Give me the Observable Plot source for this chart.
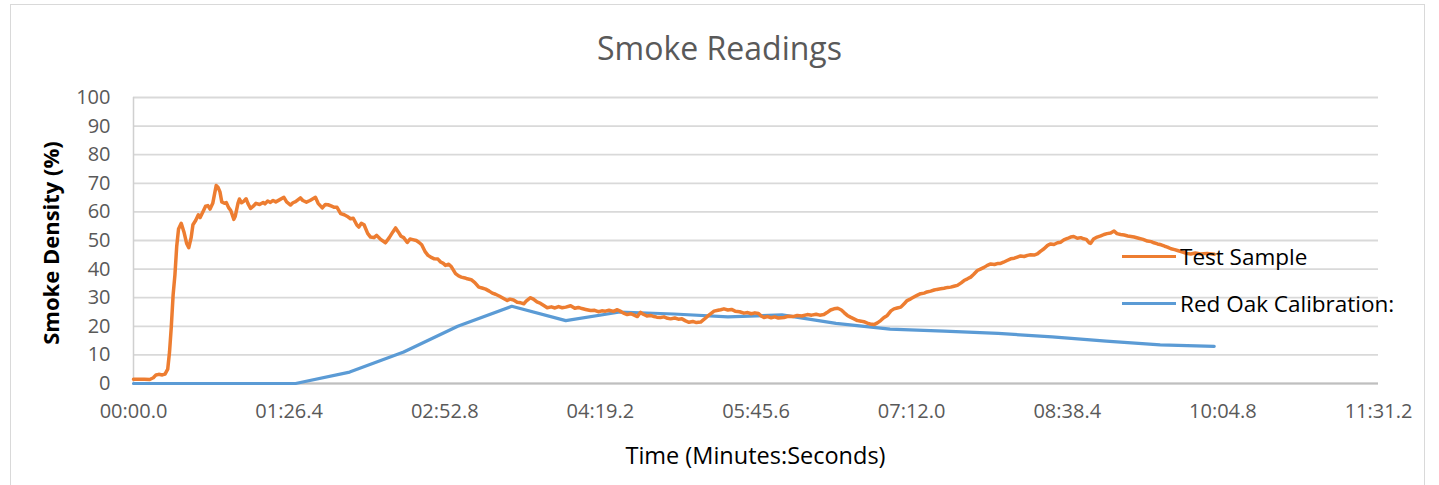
<!DOCTYPE html>
<html>
<head>
<meta charset="utf-8">
<script src="https://cdn.jsdelivr.net/npm/d3@7"></script>
<script src="https://cdn.jsdelivr.net/npm/@observablehq/plot@0.6"></script>
<style>
  html, body { margin: 0; padding: 0; background: #fff; }
  #wrap { position: relative; width: 1439px; height: 485px; overflow: hidden; font-family: "Open Sans", sans-serif; }
  #frame { position: absolute; left: 10px; top: 4px; width: 1415px; height: 500px; border: 1px solid #d9d9d9; box-sizing: border-box; pointer-events: none; }
  #title { position: absolute; left: 0; width: 1439px; top: 27px; text-align: center; font-size: 32px; color: #595959; line-height: 42px; }
  #ytitle { position: absolute; left: 50px; top: 243px; transform: translate(-50%, -50%) rotate(-90deg); white-space: nowrap; font-size: 22px; font-weight: bold; color: #000; }
  #xtitle { position: absolute; left: 133px; width: 1245px; top: 439px; text-align: center; font-size: 23.5px; color: #000; line-height: 32px; }
  .leg { position: absolute; left: 1122px; height: 30px; display: flex; align-items: center; font-size: 22.5px; color: #000; white-space: nowrap; }
  .leg .sw { width: 54px; height: 3px; margin-right: 4px; }
  svg g[aria-label="x-axis tick label"] { font-size: 20px; fill: #595959; }
  svg g[aria-label="y-axis tick label"] { font-size: 20px; fill: #595959; }
</style>
</head>
<body>
<div id="wrap">
  <div id="chart"></div>
  <div id="frame"></div>
  <div id="title"></div>
  <div id="ytitle"></div>
  <div id="xtitle"></div>
  <div id="leg"></div>
</div>
<script>
// ---------- data ----------
const chartTitle = "Smoke Readings";
const xAxisTitle = "Time (Minutes:Seconds)";
const yAxisTitle = "Smoke Density (%)";
const seriesNames = ["Test Sample", "Red Oak Calibration:"];
const seriesColors = ["#ED7D31", "#5B9BD5"];

const xTickValues = [0, 86.4, 172.8, 259.2, 345.6, 432, 518.4, 604.8, 691.2];
const xTickLabels = ["00:00.0", "01:26.4", "02:52.8", "04:19.2", "05:45.6", "07:12.0", "08:38.4", "10:04.8", "11:31.2"];
const yTickValues = [0, 10, 20, 30, 40, 50, 60, 70, 80, 90, 100];

// Test Sample (seconds, %)
const testTime = [0,3,6,9,11,12.5,14,16,17.5,19,20,21,22,23,24,25,26.5,28,29.5,30.7,32,33,34.5,36,37,38.5,40,41.3,42.5,44,45.9,47,48,49,50.5,51.5,52.8,54,55.7,56.5,58,58.8,60,61,62.5,63.5,65,66.5,68,70,72,73,74.5,76,77.5,79,81,83.5,85,87.2,88.5,90,92.7,94,96,98,101,102.5,104.8,106.5,108,110,111.5,113,115,117,118.5,120.5,122,124,125.1,126.5,128,130,131.6,133.5,135,137,139.9,142,144,145.5,147,148.5,150,152,153.5,155,157,158.4,160,162,163.5,165,167,169,170.5,172,173.2,175,176.5,178.8,180.5,182,184,185.3,187.5,189.5,191.7,193.5,195.5,197.5,199.2,201,203,205.5,207.5,209,211,213,215,216.7,218,220.4,222,224,226,228,229.7,232,234,236,238,240,242.7,245,247,249,251,253.8,256,258,260,262,264,266.5,268.6,270.5,272,274.1,276,278,279.7,281.5,283,285,287,289,290.5,292.6,294.5,296.5,298.2,300.5,302.5,304.5,306.5,308.4,310.5,312.5,314.9,316.5,318,320,322.3,324.5,326,327.8,330,332,334,336.5,338.9,341,343,345,347,348.5,350,352,354,356,358,361.1,363.5,366,368.5,371,374.1,376.5,379,381,383.3,385,387,388.9,391,393,394.5,396.3,398,400,401.9,404,405.5,407.4,409,411.1,413,414.8,416.5,418.5,420.5,422.2,424,426,428,429.5,431.5,433.5,435,437,439,440.5,442.6,444.5,446,448.1,450,452,453.7,455.5,457.4,459.5,461.1,463,464.8,466.5,468.5,470.5,472.2,474,475.9,478,480,481.4,483,485,487,489,490.7,492.5,494.5,496.3,498,500,501.8,503.5,505.5,507.5,509.2,511,513,514.8,516.5,518.5,520.3,522,524,525.9,527.5,529,530.5,531.4,533,535,537,538.8,540.5,542.5,544.4,546,548,550,552,555.5,558,560.5,562.9,565,566.5,568.5,570.5,572.5,574,576,578,579.6,582,584.5,587,589.5,592.5,596,600];
const testValue = [1.5,1.5,1.5,1.4,2.0,3.0,3.2,3.0,3.3,5,11,20,31,38,48,54,56,53,49,47.5,51,55.5,57,59,58,60,62,62.2,61,63,69.2,68.5,67,63.5,63,63.3,61.5,60.5,57.4,58.5,63,64.5,63.2,63.6,64.6,63,61.2,62,63,62.6,63.3,62.8,63.8,63.3,64,63.5,64.2,65.1,63.5,62.4,63.2,63.6,64.9,64,63.4,64,65.1,63,61.4,62.6,62.5,62,61.6,61.6,59.4,59,58.5,57.6,57.8,55.4,54.7,56,55.5,52.5,51.2,51,51.8,50.5,49.2,51,53,54.4,53,51.5,51,49.3,50.5,50.3,50,49.4,48.5,46,44.8,44.2,43.6,43.5,42.5,42,41.3,41.7,40.8,38.4,37.6,37.2,36.9,36.6,36.3,35.3,33.7,33.4,33,32.3,31.6,31.2,30.6,29.7,29,29.5,29.2,28.4,28.2,27.9,28.8,30,29.5,28.5,28,27.2,26.5,26.8,26.4,26.9,26.5,26.7,27.2,26.3,26.6,26.2,25.9,25.5,25.6,25.1,25.4,25.3,25.6,25.2,25.8,25.2,24.6,24.1,24.4,23.9,23.4,24.9,24.2,23.6,23.8,23.4,23.2,23.1,23.3,22.8,22.6,22.9,22.5,22.6,21.9,21.4,21.7,21.3,21.5,22.3,23.1,24.2,25.3,25.6,25.8,26.1,25.7,25.9,25.3,25.1,24.6,24.8,24.4,24.7,24.5,23.6,23.1,23.4,23,23.3,22.9,23.1,23.5,23.4,23.8,23.6,24.1,23.9,24.2,23.9,24.1,24.8,25.7,26.1,26.3,25.7,24.8,23.8,23.2,22.6,22,21.8,21.6,21.1,20.8,20.6,21.2,22,23,23.8,25.4,26.1,26.4,26.7,28,29,29.6,30.3,30.8,31.4,31.6,32,32.3,32.7,32.9,33.1,33.3,33.6,33.7,34,34.3,35.2,36,36.6,37.2,38.2,39.5,40.1,40.6,41.3,41.8,41.6,42,42,42.4,43,43.6,43.8,44.2,44.6,44.4,44.8,45,44.9,45.3,46.2,47.1,48.3,48.8,48.6,49.2,49.4,50.2,50.7,51.2,51.4,50.8,51,50.6,50.4,49.2,49,50.5,51.2,51.6,52.1,52.4,52.6,53.3,52.4,52.1,51.9,51.6,51.2,50.8,50.4,49.8,49.6,49.2,48.8,48.5,48,47.7,47.1,46.8,46.5,46,45.5,45.3,45.6,45.3,45.5,45.2];

// Red Oak Calibration (seconds, %)
const calTime  = [0,30,60,90,120,150,180,210,240,270,300,330,360,390,420,450,480,510,540,570,600];
const calValue = [0,0,0,0,4,11,20,27,22,25,24.3,23.3,24,21,19,18.3,17.5,16.3,14.8,13.5,13];

// ---------- build ----------
const testData = testTime.map((t, i) => ({t, v: testValue[i]}));
const calData = calTime.map((t, i) => ({t, v: calValue[i]}));
const tickLabel = new Map(xTickValues.map((v, i) => [v, xTickLabels[i]]));

const chart = Plot.plot({
  width: 1439,
  height: 485,
  marginLeft: 133,
  marginRight: 61,
  marginTop: 97,
  marginBottom: 102,
  style: {fontFamily: "Open Sans", background: "transparent", overflow: "visible"},
  x: {domain: [0, 691.2]},
  y: {domain: [0, 100]},
  marks: [
    Plot.gridY(yTickValues, {stroke: "#d9d9d9", strokeOpacity: 1, strokeWidth: 1.8}),
    Plot.ruleY([0], {stroke: "#bfbfbf", strokeWidth: 1.8}),
    Plot.ruleX([0], {stroke: "#d0d0d0", strokeWidth: 1.5}),
    Plot.axisX(xTickValues, {tickSize: 0, tickPadding: 20, tickFormat: d => tickLabel.get(d), label: null}),
    Plot.axisY(yTickValues, {tickSize: 0, tickPadding: 23, label: null}),
    Plot.line(calData, {x: "t", y: "v", stroke: seriesColors[1], strokeWidth: 3.2, strokeLinejoin: "round", strokeLinecap: "round"}),
    Plot.line(testData, {x: "t", y: "v", stroke: seriesColors[0], strokeWidth: 3.5, strokeLinejoin: "round", strokeLinecap: "round"})
  ]
});
document.getElementById("chart").appendChild(chart);

document.getElementById("title").textContent = chartTitle;
document.getElementById("xtitle").textContent = xAxisTitle;
document.getElementById("ytitle").textContent = yAxisTitle;

const legTops = [241, 288];
const leg = document.getElementById("leg");
seriesNames.forEach((name, i) => {
  const row = document.createElement("div");
  row.className = "leg";
  row.style.top = legTops[i] + "px";
  const sw = document.createElement("div");
  sw.className = "sw";
  sw.style.background = seriesColors[i];
  const tx = document.createElement("span");
  tx.textContent = name;
  row.appendChild(sw);
  row.appendChild(tx);
  leg.appendChild(row);
});
</script>
</body>
</html>
